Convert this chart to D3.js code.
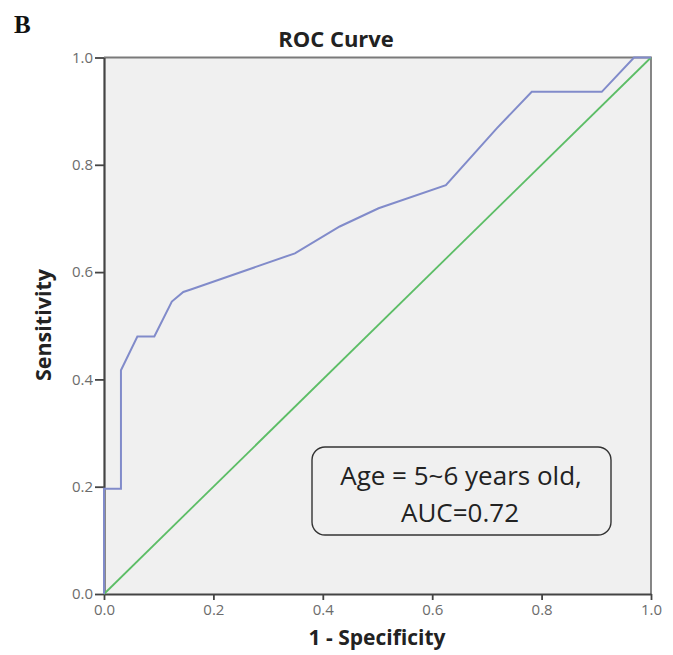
<!DOCTYPE html>
<html><head><meta charset="utf-8">
<script src="https://cdn.jsdelivr.net/npm/d3@7"></script>
<style>body{margin:0;background:#fff;}svg{display:block;}</style>
</head><body><div id="chart"></div>
<script>
// ROC curve points (1 - specificity, sensitivity)
const fpr = [0, 0, 0.031, 0.031, 0.061, 0.092, 0.124, 0.145, 0.16, 0.349, 0.431, 0.502, 0.625, 0.718, 0.782, 0.910, 0.969, 1.0];
const tpr = [0, 0.196, 0.196, 0.417, 0.480, 0.480, 0.545, 0.563, 0.568, 0.635, 0.685, 0.719, 0.762, 0.868, 0.936, 0.936, 1.0, 1.0];
const refX = [0, 1];
const refY = [0, 1];
const tickVals = [0, 0.2, 0.4, 0.6, 0.8, 1.0];
const tickLabels = ["0.0", "0.2", "0.4", "0.6", "0.8", "1.0"];
const title = "ROC Curve";
const xLabel = "1 - Specificity";
const yLabel = "Sensitivity";
const panel = "B";
const note = ["Age = 5~6 years old,", "AUC=0.72"];

const W = 673, H = 655;
const svg = d3.select("#chart").append("svg").attr("width", W).attr("height", H);
const x = d3.scaleLinear().domain([0, 1]).range([104, 651]);
const y = d3.scaleLinear().domain([0, 1]).range([594, 57.5]);

svg.append("rect").attr("x", x(0)).attr("y", y(1)).attr("width", x(1) - x(0)).attr("height", y(0) - y(1)).attr("fill", "#f0f0f0");

// top/right frame
svg.append("path").attr("d", `M${x(0)},${y(1)}H${x(1)}V${y(0)}`).attr("fill", "none").attr("stroke", "#7a7a7a").attr("stroke-width", 1.8);

const font = "'Open Sans', sans-serif";
const xAxis = d3.axisBottom(x).tickValues(tickVals).tickFormat((d, i) => tickLabels[i]).tickSize(6).tickSizeOuter(0).tickPadding(4);
const yAxis = d3.axisLeft(y).tickValues(tickVals).tickFormat((d, i) => tickLabels[i]).tickSize(9).tickSizeOuter(0).tickPadding(2);

const gx = svg.append("g").attr("transform", `translate(0,${y(0)})`).call(xAxis);
const gy = svg.append("g").attr("transform", `translate(${x(0)},0)`).call(yAxis);
[gx, gy].forEach(g => {
  g.select(".domain").attr("stroke", "#444").attr("stroke-width", 2.2);
  g.selectAll(".tick line").attr("stroke", "#444").attr("stroke-width", 1.8);
  g.selectAll(".tick text").attr("fill", "#6c6c6c").style("font-family", font).style("font-size", "15px");
});

// reference line
svg.append("path").datum(refX.map((d, i) => [d, refY[i]]))
  .attr("d", d3.line().x(d => x(d[0])).y(d => y(d[1])))
  .attr("fill", "none").attr("stroke", "#5cbd66").attr("stroke-width", 1.8);

// ROC curve
svg.append("path").datum(fpr.map((d, i) => [d, tpr[i]]))
  .attr("d", d3.line().x(d => x(d[0])).y(d => y(d[1])))
  .attr("fill", "none").attr("stroke", "#818bca").attr("stroke-width", 2);

// texts
svg.append("text").attr("x", 336).attr("y", 47).attr("text-anchor", "middle")
  .style("font-family", font).style("font-weight", "bold").style("font-size", "22px").attr("fill", "#222").text(title);
svg.append("text").attr("x", 377).attr("y", 645).attr("text-anchor", "middle")
  .style("font-family", font).style("font-weight", "bold").style("font-size", "21px").attr("fill", "#222").text(xLabel);
svg.append("text").attr("transform", "translate(51,325) rotate(-90)").attr("text-anchor", "middle")
  .style("font-family", font).style("font-weight", "bold").style("font-size", "21.5px").attr("fill", "#222").text(yLabel);
svg.append("text").attr("x", 14).attr("y", 33)
  .style("font-family", "'Liberation Serif', serif").style("font-weight", "bold").style("font-size", "25px").attr("fill", "#111").text(panel);

// annotation box
svg.append("rect").attr("x", 312).attr("y", 447).attr("width", 299).attr("height", 88).attr("rx", 13)
  .attr("fill", "#f0f0f0").attr("stroke", "#333").attr("stroke-width", 1.4);
svg.append("text").attr("x", 461).attr("y", 485).attr("text-anchor", "middle")
  .style("font-family", font).style("font-size", "26px").attr("fill", "#222").text(note[0]);
svg.append("text").attr("x", 460).attr("y", 521.5).attr("text-anchor", "middle")
  .style("font-family", font).style("font-size", "26px").attr("fill", "#222").text(note[1]);
</script></body></html>
